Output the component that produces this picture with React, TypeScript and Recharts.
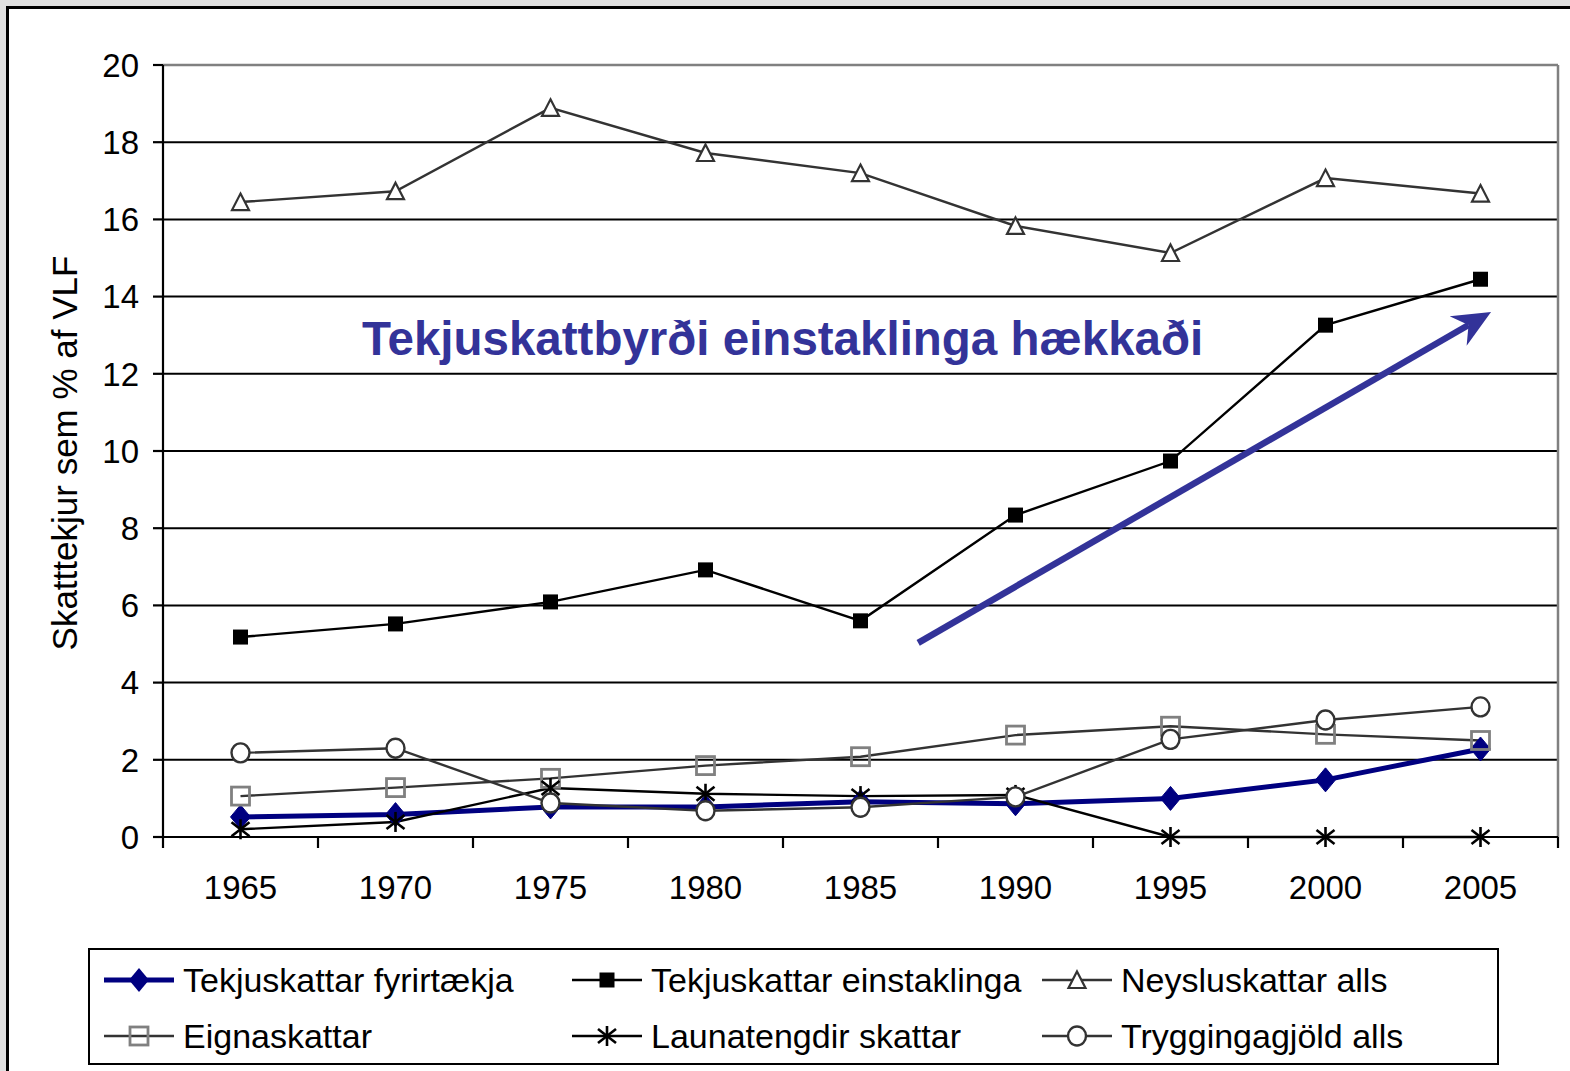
import React from "react";
import {
  LineChart,
  Line,
  XAxis,
  YAxis,
  CartesianGrid,
  ReferenceLine,
} from "recharts";

const years = [1965, 1970, 1975, 1980, 1985, 1990, 1995, 2000, 2005];
const fyrirtaekja = [0.52, 0.58, 0.78, 0.78, 0.91, 0.86, 1.0, 1.48, 2.28];
const einstaklinga = [5.18, 5.52, 6.09, 6.92, 5.6, 8.34, 9.74, 13.26, 14.45];
const neysluskattar = [16.45, 16.73, 18.89, 17.72, 17.2, 15.83, 15.13, 17.07, 16.67];
const eignaskattar = [1.06, 1.28, 1.52, 1.85, 2.08, 2.64, 2.87, 2.66, 2.5];
const launatengdir = [0.2, 0.39, 1.27, 1.12, 1.06, 1.09, 0, 0, 0];
const tryggingagjold = [2.18, 2.3, 0.88, 0.68, 0.77, 1.04, 2.53, 3.03, 3.37];

const yTicks = [0, 2, 4, 6, 8, 10, 12, 14, 16, 18, 20];
// tick marks sit between the year categories
const xBoundaries = [1962.5, 1967.5, 1972.5, 1977.5, 1982.5, 1987.5, 1992.5, 1997.5, 2002.5, 2007.5];

const annotation = "Tekjuskattbyrði einstaklinga hækkaði";
const arrowFrom = { x: 1986.86, y: 5.03 };
const arrowTo = { x: 2005.34, y: 13.6 };

const FONT = "'Liberation Sans', Arial, sans-serif";
const NAVY = "#000080";
const ARROW = "#333399";

const data = years.map((year, i) => ({
  year,
  fyrirtaekja: fyrirtaekja[i],
  einstaklinga: einstaklinga[i],
  neysluskattar: neysluskattar[i],
  eignaskattar: eignaskattar[i],
  launatengdir: launatengdir[i],
  tryggingagjold: tryggingagjold[i],
}));

type DotProps = { cx?: number; cy?: number; index?: number };

const diamond = (cx: number, cy: number) => (
  <polygon
    points={`${cx},${cy - 12} ${cx + 10},${cy} ${cx},${cy + 12} ${cx - 10},${cy}`}
    fill={NAVY}
    stroke={NAVY}
  />
);
const blackSquare = (cx: number, cy: number) => (
  <rect x={cx - 7.5} y={cy - 7.5} width={15} height={15} fill="#000" />
);
const triangle = (cx: number, cy: number) => (
  <polygon
    points={`${cx},${cy - 8.5} ${cx + 8.5},${cy + 8} ${cx - 8.5},${cy + 8}`}
    fill="#fff"
    stroke="#333"
    strokeWidth={2.2}
  />
);
const graySquare = (cx: number, cy: number) => (
  <rect
    x={cx - 9}
    y={cy - 9}
    width={18}
    height={18}
    fill="none"
    stroke="#808080"
    strokeWidth={2.8}
  />
);
const asterisk = (cx: number, cy: number) => (
  <g stroke="#000" strokeWidth={2.6}>
    <line x1={cx} y1={cy - 10} x2={cx} y2={cy + 10} />
    <line x1={cx - 9} y1={cy - 7} x2={cx + 9} y2={cy + 7} />
    <line x1={cx - 9} y1={cy + 7} x2={cx + 9} y2={cy - 7} />
  </g>
);
const circle = (cx: number, cy: number) => (
  <ellipse cx={cx} cy={cy} rx={9} ry={9.5} fill="#fff" stroke="#333" strokeWidth={2.4} />
);

const makeDot =
  (draw: (cx: number, cy: number) => React.ReactElement) =>
  (props: DotProps): React.ReactElement => {
    const { cx, cy, index } = props;
    if (cx === undefined || cy === undefined) return <g key={index} />;
    return <g key={index}>{draw(cx, cy)}</g>;
  };

const series = [
  { key: "fyrirtaekja", name: "Tekjuskattar fyrirtækja", stroke: NAVY, width: 5, marker: diamond },
  { key: "einstaklinga", name: "Tekjuskattar einstaklinga", stroke: "#000", width: 2.4, marker: blackSquare },
  { key: "neysluskattar", name: "Neysluskattar alls", stroke: "#333", width: 2.4, marker: triangle },
  { key: "eignaskattar", name: "Eignaskattar", stroke: "#333", width: 2.4, marker: graySquare },
  { key: "launatengdir", name: "Launatengdir skattar", stroke: "#000", width: 2.4, marker: asterisk },
  { key: "tryggingagjold", name: "Tryggingagjöld alls", stroke: "#333", width: 2.4, marker: circle },
];

const XTick = (props: { x?: number; y?: number; payload?: { value: number } }) => {
  const { x = 0, y = 0, payload } = props;
  const v = payload ? payload.value : 0;
  if (v % 5 === 0) {
    return (
      <text x={x} y={y + 62} textAnchor="middle" fontSize={33} fontFamily={FONT} fill="#000">
        {v}
      </text>
    );
  }
  return <line x1={x} y1={y} x2={x} y2={y + 11} stroke="#000" strokeWidth={2.2} />;
};

const Arrow = (props: { x1?: number; y1?: number; x2?: number; y2?: number }) => {
  const { x1 = 0, y1 = 0, x2 = 0, y2 = 0 } = props;
  const len = Math.hypot(x2 - x1, y2 - y1) || 1;
  const ux = (x2 - x1) / len;
  const uy = (y2 - y1) / len;
  const nx = -uy;
  const ny = ux;
  const bx = x2 - ux * 38;
  const by = y2 - uy * 38;
  const notchX = x2 - ux * 26;
  const notchY = y2 - uy * 26;
  return (
    <g>
      <line x1={x1} y1={y1} x2={notchX} y2={notchY} stroke={ARROW} strokeWidth={6.5} />
      <polygon
        points={`${x2},${y2} ${bx + nx * 17},${by + ny * 17} ${notchX},${notchY} ${bx - nx * 17},${by - ny * 17}`}
        fill={ARROW}
      />
    </g>
  );
};

const LegendItem = ({ s }: { s: (typeof series)[number] }) => (
  <div style={{ display: "flex", alignItems: "center", height: 56 }}>
    <svg width={72} height={40} style={{ marginRight: 8 }}>
      <line x1={1} y1={20} x2={71} y2={20} stroke={s.stroke} strokeWidth={s.width} />
      {s.key === "fyrirtaekja" ? (
        <polygon points="36,8 46,20 36,32 26,20" fill={NAVY} />
      ) : (
        s.marker(36, 20)
      )}
    </svg>
    <span>{s.name}</span>
  </div>
);

export default function App() {
  return (
    <div
      style={{
        position: "absolute",
        left: 0,
        top: 0,
        width: 1570,
        height: 1071,
        background: "#e0e0e0",
        overflow: "hidden",
        fontFamily: FONT,
      }}
    >
      <div
        style={{
          position: "absolute",
          left: 6,
          top: 6,
          width: 1570,
          height: 1071,
          background: "#fff",
          borderTop: "3px solid #000",
          borderLeft: "3px solid #000",
        }}
      />
      <div style={{ position: "absolute", left: 0, top: 0 }}>
        <LineChart
          width={1570}
          height={1071}
          data={data}
          margin={{ top: 65, right: 12, left: 0, bottom: 174 }}
        >
          <CartesianGrid vertical={false} stroke="#000" strokeWidth={2} />
          <XAxis
            dataKey="year"
            type="number"
            domain={[1962.5, 2007.5]}
            ticks={[...xBoundaries, ...years]}
            interval={0}
            height={60}
            tickLine={false}
            tickSize={0}
            tickMargin={0}
            axisLine={{ stroke: "#000", strokeWidth: 2.2 }}
            tick={<XTick />}
          />
          <YAxis
            type="number"
            domain={[0, 20]}
            ticks={yTicks}
            interval={0}
            width={163}
            tickSize={10}
            tickMargin={14}
            axisLine={{ stroke: "#000", strokeWidth: 2.2 }}
            tickLine={{ stroke: "#000", strokeWidth: 2.2 }}
            tick={{ fontSize: 33, fill: "#000", fontFamily: FONT }}
            label={{
              content: (p: { viewBox?: { x: number; y: number; width: number; height: number } }) => {
                const vb = p.viewBox || { x: 0, y: 0, width: 0, height: 0 };
                const cx = vb.x + 77;
                const cy = vb.y + vb.height / 2 + 2;
                return (
                  <text
                    x={cx}
                    y={cy}
                    transform={`rotate(-90, ${cx}, ${cy})`}
                    textAnchor="middle"
                    fontSize={35}
                    fontFamily={FONT}
                    fill="#000"
                  >
                    Skatttekjur sem % af VLF
                  </text>
                );
              },
            }}
          />
          <ReferenceLine y={20} stroke="#808080" strokeWidth={2.5} />
          <ReferenceLine x={2007.5} stroke="#808080" strokeWidth={2.5} />
          {series.map((s) => (
            <Line
              key={s.key}
              type="linear"
              dataKey={s.key}
              name={s.name}
              stroke={s.stroke}
              strokeWidth={s.width}
              dot={makeDot(s.marker)}
              activeDot={false}
              isAnimationActive={false}
            />
          ))}
          <ReferenceLine
            segment={[arrowFrom, arrowTo]}
            stroke={ARROW}
            shape={(p: any) => <Arrow {...p} />}
          />
        </LineChart>
      </div>
      <div
        style={{
          position: "absolute",
          left: 88,
          top: 315,
          width: 1400,
          textAlign: "center",
          fontSize: 47.5,
          lineHeight: "47.5px",
          fontWeight: "bold",
          color: ARROW,
          whiteSpace: "nowrap",
        }}
      >
        <span style={{ position: "absolute", left: 274 }}>{annotation}</span>
      </div>
      <div
        style={{
          position: "absolute",
          left: 88,
          top: 948,
          width: 1411,
          height: 117,
          border: "2px solid #000",
          fontSize: 34,
          color: "#000",
          display: "grid",
          gridTemplateColumns: "468px 470px 1fr",
          paddingLeft: 13,
          paddingTop: 2,
          boxSizing: "border-box",
        }}
      >
        {series.map((s) => (
          <LegendItem key={s.key} s={s} />
        ))}
      </div>
    </div>
  );
}
